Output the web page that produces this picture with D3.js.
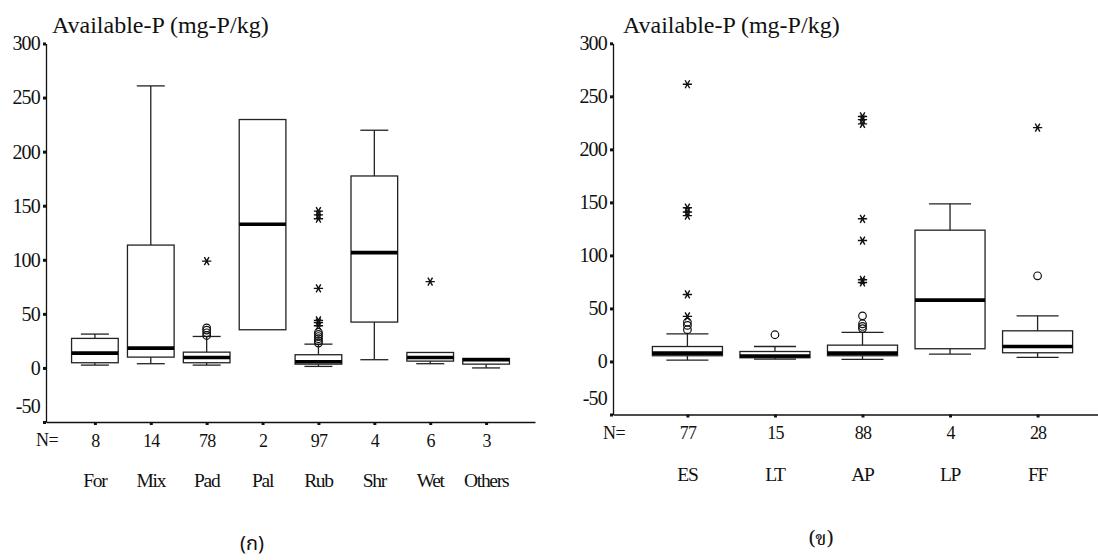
<!DOCTYPE html>
<html>
<head>
<meta charset="utf-8">
<script src="https://cdn.jsdelivr.net/npm/d3@7"></script>
<style>
  html, body { margin: 0; padding: 0; background: #fff; }
  svg { display: block; }
</style>
</head>
<body>
<svg id="chart" width="1098" height="560"></svg>
<script>
// Available-P by land use (left) and by land-use group (right)
const yTickValues = [-50, 0, 50, 100, 150, 200, 250, 300];
const titleText = "Available-P (mg-P/kg)";

// Left panel: land-use classes
const landUse = ["For", "Mix", "Pad", "Pal", "Rub", "Shr", "Wet", "Others"];
const landUseN = [8, 14, 78, 2, 97, 4, 6, 3];
const landUseLow = [2.6, 3.9, 2.6, 35.3, 1.4, 7.6, 3.9, 0];
const landUseQ1 = [4.8, 10, 4.8, 35.3, 3.5, 42.4, 6.3, 3.5];
const landUseMedian = [13.7, 18.3, 9.7, 132.8, 5.7, 106.6, 9.7, 7.6];
const landUseQ3 = [27.3, 113.6, 14.6, 229.7, 12.2, 177.5, 14.3, 8.8];
const landUseHigh = [31.3, 260.8, 29.1, 229.7, 22, 219.8, 14.3, 8.8];
const landUseCircles = [[], [], [30, 32.5, 35, 37], [], [23, 25, 27, 29, 31, 33], [], [], []];
const landUseStars = [[], [], [98.8], [], [39, 42, 44, 73.6, 138, 141.5, 145], [], [79.8], []];

// Right panel: land-use groups
const groups = ["ES", "LT", "AP", "LP", "FF"];
const groupsN = [77, 15, 88, 4, 28];
const groupsLow = [1.3, 2.3, 1.9, 7, 3.8];
const groupsQ1 = [5.4, 3.5, 5.4, 12, 8.2];
const groupsMedian = [7.9, 5.1, 7.9, 57.8, 14.1];
const groupsQ3 = [14.1, 9.4, 15.4, 123.8, 28.9];
const groupsHigh = [26.1, 14.1, 27.4, 148.6, 43];
const groupsCircles = [[30, 34, 37], [25.2], [31, 33, 35.5, 43], [], [80.8]];
const groupsStars = [[42.5, 63.2, 137.5, 141, 145, 261.4], [], [74.5, 77, 114, 134.5, 224, 228, 231], [], [220.5]];

const SERIF = '"Liberation Serif"';

const svg = d3.select("#chart");
svg.append("rect").attr("width", 1098).attr("height", 560).attr("fill", "#fff");

// Asterisk marker: horizontal bar crossed by two diagonals
const starPath = d3.symbol().type(d3.symbolAsterisk).size(60)();

function drawPanel(cfg) {
  const g = svg.append("g");
  const x = d3.scalePoint().domain(cfg.categories).range([cfg.x0, cfg.x1]).padding(cfg.pad);
  const y = d3.scaleLinear().domain([-50, 300]).range([cfg.yBottom, cfg.yTop]);
  const bw = x.step() * cfg.boxFrac;
  const capW = bw * 0.6;

  // y axis
  const ya = g.append("g")
    .attr("transform", `translate(${cfg.x0},0)`)
    .call(d3.axisLeft(y).tickValues(yTickValues).tickSize(3).tickSizeOuter(0).tickPadding(3)
      .tickFormat(d => String(d)));
  ya.attr("font-family", null);
  ya.select(".domain").attr("stroke", "#111").attr("stroke-width", 1.3);
  ya.selectAll(".tick line").attr("stroke", "#111").attr("stroke-width", 3);
  ya.selectAll(".tick text")
    .style("font-family", SERIF).style("font-size", "20px").style("letter-spacing", "-0.8px")
    .attr("fill", "#111");
  ya.selectAll(".tick").filter(d => d === -50).select("text").attr("y", -16);

  // x axis with group sizes as tick labels
  const xa = g.append("g")
    .attr("transform", `translate(0,${cfg.yBottom})`)
    .call(d3.axisBottom(x).tickSize(3).tickSizeOuter(0).tickPadding(9)
      .tickFormat((d, i) => cfg.n[i]));
  xa.attr("font-family", null);
  xa.select(".domain").attr("stroke", "#111").attr("stroke-width", 1.3);
  xa.selectAll(".tick line").attr("stroke", "#111").attr("stroke-width", 3);
  xa.selectAll(".tick text")
    .style("font-family", SERIF).style("font-size", "18px").style("letter-spacing", "-0.8px")
    .attr("fill", "#111");

  g.append("text")
    .attr("x", cfg.x0 + 1).attr("y", cfg.yBottom + 24)
    .attr("text-anchor", "middle")
    .style("font-family", SERIF).style("font-size", "18px").style("letter-spacing", "-0.5px")
    .attr("fill", "#111")
    .text("N=");

  // category names
  g.selectAll(".cat").data(cfg.categories).join("text")
    .attr("class", "cat")
    .attr("x", d => x(d)).attr("y", cfg.yBottom + cfg.catOffset)
    .attr("text-anchor", "middle")
    .style("font-family", SERIF).style("font-size", "19.5px").style("letter-spacing", "-1.3px")
    .attr("fill", "#111")
    .text(d => d);

  // title
  g.append("text")
    .attr("x", cfg.titleX).attr("y", 33)
    .style("font-family", SERIF).style("font-size", "24px")
    .attr("fill", "#111")
    .text(titleText);

  const boxes = cfg.categories.map((c, i) => ({
    c, low: cfg.low[i], q1: cfg.q1[i], med: cfg.median[i], q3: cfg.q3[i], high: cfg.high[i],
    circles: cfg.circles[i], stars: cfg.stars[i]
  }));

  const bg = g.selectAll(".box").data(boxes).join("g").attr("class", "box");

  // whiskers
  bg.each(function(d) {
    const s = d3.select(this);
    const cx = x(d.c);
    if (d.high > d.q3) {
      s.append("line").attr("x1", cx).attr("x2", cx).attr("y1", y(d.q3)).attr("y2", y(d.high))
        .attr("stroke", "#222").attr("stroke-width", 1.3);
      s.append("line").attr("x1", cx - capW / 2).attr("x2", cx + capW / 2).attr("y1", y(d.high)).attr("y2", y(d.high))
        .attr("stroke", "#222").attr("stroke-width", 1.3);
    }
    if (d.low < d.q1) {
      s.append("line").attr("x1", cx).attr("x2", cx).attr("y1", y(d.q1)).attr("y2", y(d.low))
        .attr("stroke", "#222").attr("stroke-width", 1.3);
      s.append("line").attr("x1", cx - capW / 2).attr("x2", cx + capW / 2).attr("y1", y(d.low)).attr("y2", y(d.low))
        .attr("stroke", "#222").attr("stroke-width", 1.3);
    }
  });

  // boxes
  bg.append("rect")
    .attr("x", d => x(d.c) - bw / 2)
    .attr("y", d => y(d.q3))
    .attr("width", bw)
    .attr("height", d => y(d.q1) - y(d.q3))
    .attr("fill", "#fff").attr("stroke", "#222").attr("stroke-width", 1.3);

  // medians
  bg.append("line")
    .attr("x1", d => x(d.c) - bw / 2).attr("x2", d => x(d.c) + bw / 2)
    .attr("y1", d => y(d.med)).attr("y2", d => y(d.med))
    .attr("stroke", "#000").attr("stroke-width", 3.6);

  // outliers
  bg.selectAll(".out").data(d => d.circles.map(v => ({ c: d.c, v }))).join("circle")
    .attr("class", "out")
    .attr("cx", d => x(d.c)).attr("cy", d => y(d.v)).attr("r", 3.8)
    .attr("fill", "none").attr("stroke", "#111").attr("stroke-width", 1.2);

  bg.selectAll(".ext").data(d => d.stars.map(v => ({ c: d.c, v }))).join("path")
    .attr("class", "ext")
    .attr("d", starPath)
    .attr("transform", d => `translate(${x(d.c)},${y(d.v)}) rotate(90)`)
    .attr("fill", "none").attr("stroke", "#111").attr("stroke-width", 1.4);

  // panel caption
  svg.append("text")
    .attr("x", cfg.capX).attr("y", cfg.capY)
    .attr("text-anchor", "middle")
    .style("font-family", cfg.capFont).style("font-size", "20px")
    .attr("fill", "#111")
    .text(cfg.caption);
}

drawPanel({
  categories: landUse, n: landUseN,
  low: landUseLow, q1: landUseQ1, median: landUseMedian, q3: landUseQ3, high: landUseHigh,
  circles: landUseCircles, stars: landUseStars,
  x0: 46, x1: 535, pad: 0.875, boxFrac: 0.835,
  yTop: 43.5, yBottom: 422,
  catOffset: 64.5, titleX: 52,
  caption: "(ก)", capX: 252, capY: 550, capFont: '"Noto Sans Thai"'
});

drawPanel({
  categories: groups, n: groupsN,
  low: groupsLow, q1: groupsQ1, median: groupsMedian, q3: groupsQ3, high: groupsHigh,
  circles: groupsCircles, stars: groupsStars,
  x0: 613, x1: 1112, pad: 0.85, boxFrac: 0.8,
  yTop: 43.3, yBottom: 414.5,
  catOffset: 66, titleX: 623,
  caption: "(ข)", capX: 821, capY: 545, capFont: '"Noto Serif Thai"'
});
</script>
</body>
</html>
